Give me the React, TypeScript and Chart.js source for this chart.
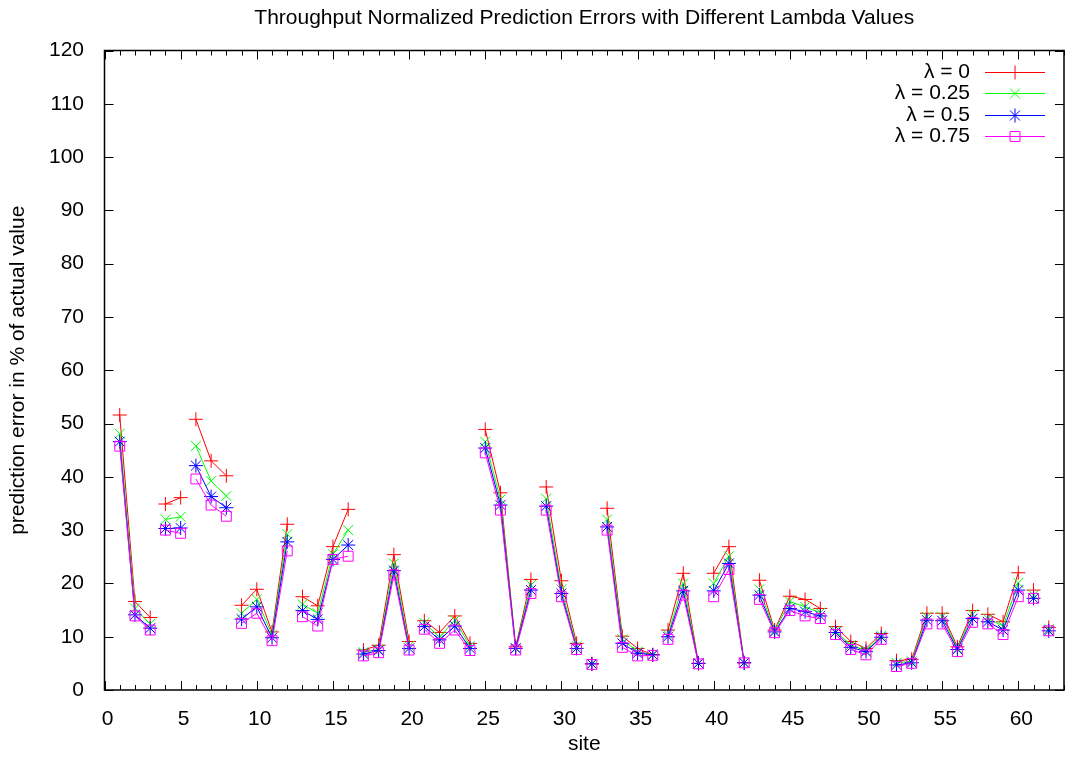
import React, { useEffect, useRef } from 'react';
import { Chart, registerables } from 'chart.js';
import { drawPoint } from 'chart.js/helpers';

Chart.register(...registerables);

// ---- data ----
const sites = [
  1, 2, 3, 4, 5, 6, 7, 8, 9, 10, 11, 12, 13, 14, 15, 16, 17, 18, 19, 20,
  21, 22, 23, 24, 25, 26, 27, 28, 29, 30, 31, 32, 33, 34, 35, 36, 37, 38, 39, 40,
  41, 42, 43, 44, 45, 46, 47, 48, 49, 50, 51, 52, 53, 54, 55, 56, 57, 58, 59, 60,
  61, 62,
];

const lambda0 = [
  51.6, 16.6, 13.6, 34.9, 36.1, 50.8, 43.0, 40.2, 15.9, 18.9, 10.9, 31.1, 17.5, 15.8, 26.9, 33.9, 7.5, 8.4, 25.4, 9.1,
  13.0, 10.8, 13.9, 8.75, 48.9, 37.0, 8.1, 20.75, 38.1, 20.5, 8.75, 4.9, 34.1, 10.1, 7.8, 6.6, 11.25, 21.9, 5.0, 21.9,
  26.9, 5.1, 20.6, 11.25, 17.6, 17.0, 15.3, 11.9, 9.1, 7.8, 10.6, 5.5, 5.75, 14.4, 14.4, 8.1, 14.9, 14.2, 12.8, 22.0,
  18.75, 11.75,
];
const lambda025 = [
  48.1, 15.3, 12.4, 32.0, 32.5, 45.8, 39.2, 36.4, 14.4, 17.0, 10.4, 29.25, 16.1, 14.4, 25.5, 30.0, 7.1, 7.6, 23.75, 8.25,
  12.6, 9.9, 13.1, 8.25, 46.6, 35.75, 7.9, 19.7, 35.9, 18.9, 8.25, 4.9, 32.0, 9.5, 7.2, 6.6, 10.4, 20.0, 5.0, 20.0,
  25.1, 5.1, 18.9, 11.1, 16.6, 15.6, 14.5, 11.1, 8.4, 7.4, 10.2, 5.1, 5.4, 13.75, 13.75, 7.8, 14.2, 13.4, 12.0, 20.1,
  17.8, 11.4,
];
const lambda05 = [
  46.6, 14.1, 11.6, 30.3, 30.4, 42.1, 36.3, 34.2, 13.3, 15.6, 9.8, 27.8, 14.9, 13.25, 24.5, 27.2, 6.75, 7.4, 22.4, 7.8,
  11.9, 9.4, 12.0, 7.8, 45.4, 34.7, 7.8, 18.75, 34.5, 18.1, 7.8, 4.9, 30.6, 8.75, 6.9, 6.6, 10.0, 18.6, 5.0, 18.6,
  23.75, 5.1, 17.8, 10.9, 15.3, 14.7, 13.9, 10.8, 8.0, 7.2, 9.9, 4.7, 5.1, 13.1, 13.0, 7.6, 13.4, 12.8, 11.25, 18.75,
  17.2, 11.1,
];
const lambda075 = [
  45.75, 13.9, 11.25, 30.0, 29.4, 39.6, 34.7, 32.6, 12.5, 14.4, 9.25, 26.1, 13.75, 12.0, 24.5, 25.1, 6.4, 7.0, 21.6, 7.5,
  11.4, 8.75, 11.25, 7.4, 44.5, 33.75, 7.5, 18.1, 33.75, 17.5, 7.6, 4.8, 30.0, 8.0, 6.4, 6.5, 9.5, 17.8, 4.9, 17.5,
  22.6, 5.1, 17.0, 10.75, 14.9, 13.9, 13.4, 10.4, 7.6, 6.6, 9.5, 4.4, 5.0, 12.4, 12.4, 7.2, 12.7, 12.4, 10.4, 17.5,
  17.2, 11.1,
];

// the line is broken after these sites
const breaksAfter = [3, 5, 8, 12, 16, 20, 24, 28, 31, 32, 36, 39, 42, 47, 51, 54, 57, 60, 61];

const seriesValues = [lambda0, lambda025, lambda05, lambda075];
const seriesLabels = ['λ = 0', 'λ = 0.25', 'λ = 0.5', 'λ = 0.75'];
const seriesColors = ['#ff0000', '#00ff00', '#0000ff', '#ff00ff'];
const seriesMarkers = ['cross', 'crossRot', 'star', 'rect'];

const titleText = 'Throughput Normalized Prediction Errors with Different Lambda Values';
const xTitle = 'site';
const yTitle = 'prediction error in % of actual value';

const FONT = "'Liberation Sans', Arial, sans-serif";
const FS = 21;

const framePlugin = {
  id: 'gnuFrame',
  beforeDatasetsDraw(chart: any) {
    const { ctx, chartArea: a, scales } = chart;
    const x = scales.x;
    const y = scales.y;
    ctx.save();
    ctx.strokeStyle = '#000';
    ctx.lineWidth = 1;
    ctx.beginPath();
    for (let v = Math.ceil(x.min); v <= x.max; v++) {
      const px = Math.round(x.getPixelForValue(v)) + 0.5;
      const len = v % 5 === 0 ? 9 : 5;
      ctx.moveTo(px, a.bottom);
      ctx.lineTo(px, a.bottom - len);
      ctx.moveTo(px, a.top);
      ctx.lineTo(px, a.top + len);
    }
    y.ticks.forEach((t: any) => {
      const py = Math.round(y.getPixelForValue(t.value)) + 0.5;
      ctx.moveTo(a.left, py);
      ctx.lineTo(a.left + 9, py);
      ctx.moveTo(a.right, py);
      ctx.lineTo(a.right - 9, py);
    });
    ctx.stroke();
    ctx.lineWidth = 1.5;
    ctx.strokeRect(a.left, a.top, a.right - a.left, a.bottom - a.top);
    ctx.restore();
  },
  afterDraw(chart: any) {
    const { ctx, chartArea: a } = chart;
    ctx.save();
    ctx.fillStyle = '#000';
    ctx.font = `${FS}px ${FONT}`;
    ctx.textAlign = 'center';
    ctx.textBaseline = 'middle';
    ctx.fillText(titleText, (a.left + a.right) / 2, 18);
    // legend
    ctx.textAlign = 'right';
    chart.data.datasets.forEach((ds: any, i: number) => {
      const ly = Math.round(72 + i * 21.3) + 0.5;
      ctx.fillStyle = '#000';
      ctx.fillText(seriesLabels[i], 970, ly);
      ctx.strokeStyle = seriesColors[i];
      ctx.lineWidth = 1.2;
      ctx.beginPath();
      ctx.moveTo(985, ly);
      ctx.lineTo(1045, ly);
      ctx.stroke();
      ctx.strokeStyle = seriesColors[i];
      ctx.lineWidth = 1;
      ctx.fillStyle = 'rgba(0,0,0,0)';
      drawPoint(ctx, { pointStyle: seriesMarkers[i], radius: 7, borderWidth: 1, rotation: 0 } as any, 1015, ly);
    });
    ctx.restore();
  },
};

export default function App() {
  const ref = useRef<HTMLCanvasElement | null>(null);

  useEffect(() => {
    document.body.style.margin = '0';
    const canvas = ref.current;
    if (!canvas) return;
    const datasets = seriesValues.map((vals, i) => ({
      label: seriesLabels[i],
      data: sites.map((s, k) => ({ x: s, y: vals[k] })),
      borderColor: seriesColors[i],
      backgroundColor: 'rgba(0,0,0,0)',
      borderWidth: 1,
      tension: 0,
      pointStyle: seriesMarkers[i],
      pointRadius: 7,
      pointHoverRadius: 7,
      pointBorderWidth: 1,
      pointBorderColor: seriesColors[i],
      pointBackgroundColor: 'rgba(0,0,0,0)',
      order: 3 - i,
      segment: {
        borderColor: (c: any) =>
          breaksAfter.includes(sites[c.p0DataIndex]) ? 'rgba(0,0,0,0)' : seriesColors[i],
      },
    }));

    const chart = new Chart(canvas, {
      type: 'line',
      data: { datasets },
      options: {
        responsive: false,
        animation: false,
        devicePixelRatio: 1,
        clip: false,
        layout: { padding: { left: 0, top: 50.5, right: 1.7, bottom: 0 } },
        plugins: {
          legend: { display: false },
          title: { display: false },
          tooltip: { enabled: false },
        },
        scales: {
          x: {
            type: 'linear',
            min: 0,
            max: 63,
            grid: { display: false },
            border: { display: false },
            afterFit: (s: any) => { s.height = 67; },
            ticks: {
              stepSize: 5,
              includeBounds: false,
              autoSkip: false,
              maxRotation: 0,
              padding: 9,
              labelOffset: 3,
              color: '#000',
              font: { family: FONT, size: FS },
            },
            title: {
              display: true,
              text: xTitle,
              color: '#000',
              font: { family: FONT, size: FS },
              padding: { top: 0, bottom: 0 },
            },
          },
          y: {
            min: 0,
            max: 120,
            grid: { display: false },
            border: { display: false },
            afterFit: (s: any) => { s.width = 104.5; },
            ticks: {
              stepSize: 10,
              autoSkip: false,
              padding: 12.5,
              color: '#000',
              font: { family: FONT, size: FS },
            },
            title: {
              display: true,
              text: yTitle,
              color: '#000',
              font: { family: FONT, size: FS },
              padding: { top: 5.4, bottom: 0 },
            },
          },
        },
      },
      plugins: [framePlugin],
    });
    return () => chart.destroy();
  }, []);

  return (
    <div style={{ width: 1069, height: 757, overflow: 'hidden', background: '#fff' }}>
      <canvas ref={ref} width={1072} height={757} style={{ width: 1072, height: 757, display: 'block' }} />
    </div>
  );
}
